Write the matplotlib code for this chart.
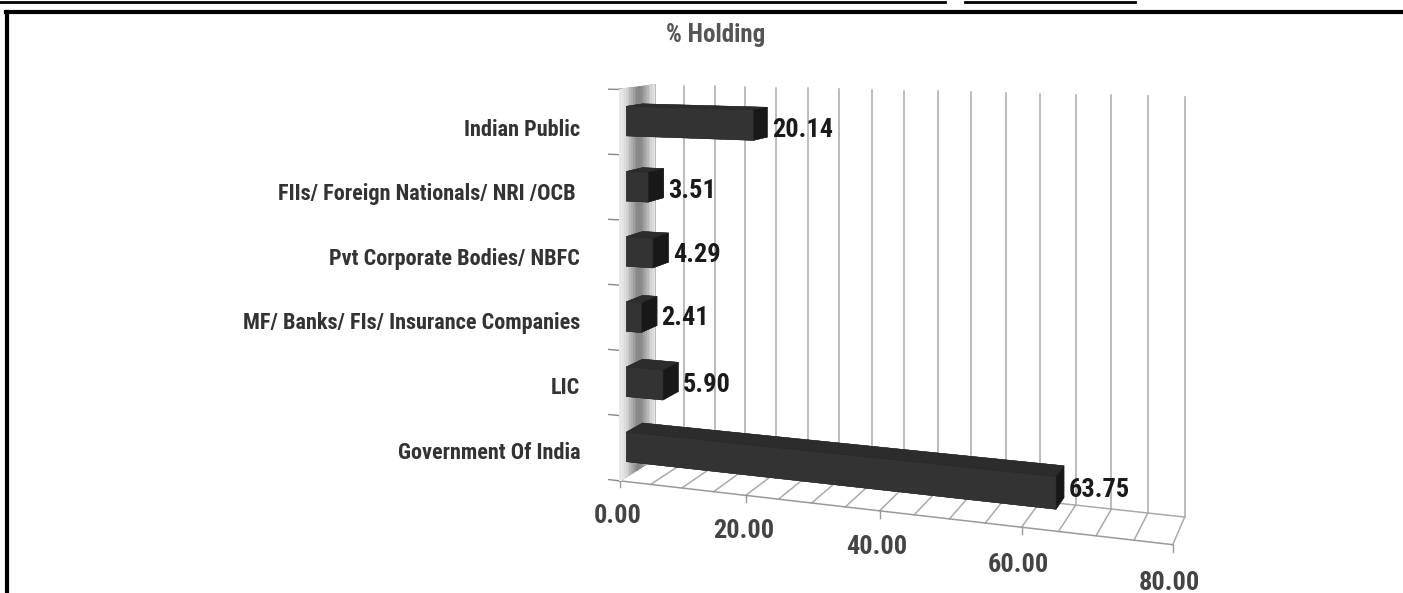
import numpy as np
import matplotlib.pyplot as plt
from matplotlib.lines import Line2D

# data, bottom category first
categories = ['Government Of India', 'LIC', 'MF/ Banks/ FIs/ Insurance Companies',
              'Pvt Corporate Bodies/ NBFC', 'FIIs/ Foreign Nationals/ NRI /OCB ', 'Indian Public']
holding = [63.75, 5.90, 2.41, 4.29, 3.51, 20.14]
grid_ticks = np.arange(0, 81, 5)
label_ticks = [0, 20, 40, 60, 80]

FONT = ['Roboto Condensed', 'Liberation Sans Narrow', 'Liberation Sans', 'DejaVu Sans']
plt.rcParams['font.family'] = FONT
plt.rcParams['font.weight'] = 'bold'

fig = plt.figure(figsize=(14.03, 5.93), dpi=100)

# scan frame lines
fig.add_artist(Line2D([0, 945 / 1403], [1 - 2 / 593] * 2, color='black', lw=2))
fig.add_artist(Line2D([965 / 1403, 1135 / 1403], [1 - 2 / 593] * 2, color='black', lw=2))
fig.add_artist(Line2D([6 / 1403, 1], [1 - 12 / 593] * 2, color='black', lw=3))
fig.add_artist(Line2D([7 / 1403] * 2, [0, 1 - 12 / 593], color='black', lw=3))

fig.text(716 / 1403, 1 - 35 / 593, '% Holding', ha='center', va='center',
         fontsize=18, color='#555555', fontweight='bold')

n = len(categories)
xmax = grid_ticks[-1]
ztop = 15.2          # eye level sits a bit above the top of the wall

S = 1400             # square 3d axes, centred on the horizon near the top of the figure
W, H = S / 1403, S / 593
ax = fig.add_axes([0.6225 - W / 2, 1 - 4 / 593 - H / 2, W, H], projection='3d')
ax.set_proj_type('persp', focal_length=0.286 * 1000 / S)
ax.view_init(elev=0, azim=-71.3)
ax.set_box_aspect((586, 80, 417 * ztop / n), zoom=1.142 * 1000 / S)
ax.set_axis_off()

grid_c = '#aaaaaa'
# side wall with soft shading
ys = np.linspace(0, 1, 21)
zs = np.array([0, n])
Y, Z = np.meshgrid(ys, zs)
shade = 0.93 - 0.4 * np.exp(-((Y - 0.5) / 0.3) ** 2)
ax.plot_surface(np.zeros_like(Y), Y, Z, facecolors=plt.cm.gray(shade), shade=False,
                linewidth=0, antialiased=False)
# wall and floor grid
for t in grid_ticks:
    ax.plot([t, t], [1, 1], [0, n], color=grid_c, lw=1.1)
    ax.plot([t, t], [0, 1], [0, 0], color=grid_c, lw=1.1)
ax.plot([0, xmax], [0, 0], [0, 0], color='#999999', lw=1.1)
ax.plot([0, xmax], [1, 1], [0, 0], color=grid_c, lw=1.1)
ax.plot([0, 0], [0, 0], [0, n], color='#999999', lw=1.1)
ax.plot([0, 0], [0, 1], [n, n], color='#999999', lw=1.1)
# small marks at the category boundaries
for k in range(n + 1):
    ax.plot([0, -1.8], [0, 0], [k, k], color='#888888', lw=1)
# x ticks and labels
for t in label_ticks:
    ax.plot([t, t], [0, 0], [0, -0.1], color='#999999', lw=1)
    ax.text(t - 0.4, 0, -0.36, f'{t:.2f}', ha='center', va='top', fontsize=19,
            color='#444444', fontweight='bold', zorder=100)

for i, v in enumerate(holding):
    ax.bar3d(0.8, 0.05, i + 0.285, v, 0.45, 0.455, color='#3a3a3a', shade=True,
             edgecolor='#2a2a2a', linewidth=0.3)
    ax.text(v + 1.5, 0.5, i + 0.40, f'{v:.2f}', ha='left', va='center',
            fontsize=19, color='#1a1a1a', fontweight='bold', zorder=100)
    ax.text(-6.5, 0, i + 0.365, categories[i], ha='right', va='center',
            fontsize=16, color='#333333', fontweight='bold', zorder=100)

ax.set_xlim(0, xmax)
ax.set_ylim(0, 1)
ax.set_zlim(0, ztop)

fig.savefig('out.png', dpi=100)
